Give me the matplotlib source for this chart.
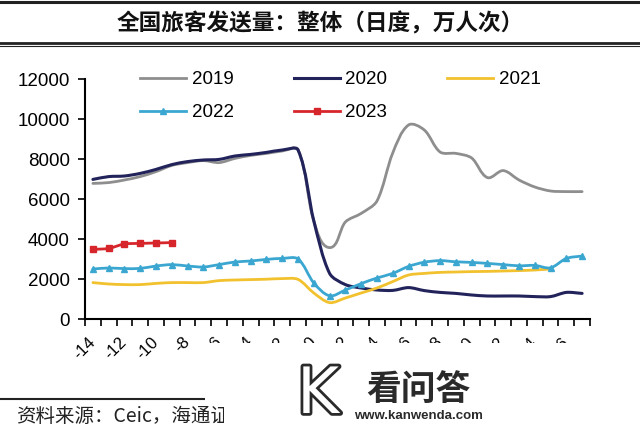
import numpy as np
import matplotlib
matplotlib.use("Agg")
import matplotlib.pyplot as plt
from matplotlib.path import Path
from matplotlib.patches import PathPatch, Polygon
from matplotlib.lines import Line2D
import matplotlib.patheffects as pe

plt.rcParams["font.family"] = ["Liberation Sans", "Noto Sans CJK SC", "DejaVu Sans"]
CJK = ["Noto Sans CJK SC", "DejaVu Sans"]

# ---- data: days around Spring Festival, 万人次 -----------------------------
days = list(range(-14, 18))
y2019 = [6780, 6820, 6950, 7120, 7370, 7680, 7820, 7920, 7820, 8030, 8180, 8280,
         8400, 8470, 4900, 3570, 4850, 5280, 5900, 8300, 9700, 9450, 8350, 8280,
         8050, 7070, 7420, 6950, 6600, 6400, 6370, 6370]
y2020 = [6980, 7120, 7150, 7280, 7480, 7720, 7870, 7950, 7980, 8150, 8230, 8330,
         8450, 8450, 4900, 2280, 1720, 1550, 1450, 1430, 1570, 1420, 1330, 1280,
         1200, 1150, 1150, 1150, 1120, 1120, 1330, 1280]
days2021 = list(range(-14, 16))
y2021 = [1820, 1750, 1720, 1720, 1780, 1820, 1820, 1820, 1920, 1950, 1970, 1990,
         2020, 1980, 1300, 820, 1050, 1300, 1550, 1870, 2200, 2280, 2330, 2350,
         2370, 2380, 2400, 2420, 2450, 2500]
y2022 = [2500, 2550, 2520, 2530, 2650, 2720, 2650, 2600, 2720, 2850, 2900, 2980,
         3030, 3000, 1800, 1160, 1450, 1770, 2050, 2280, 2630, 2840, 2920, 2860,
         2830, 2780, 2720, 2660, 2680, 2560, 3030, 3150]
days2023 = list(range(-14, -8))
y2023 = [3480, 3530, 3750, 3780, 3800, 3820]

xticks = list(range(-14, 17, 2))
yticks = list(range(0, 12001, 2000))

GRAY, NAVY, GOLD, CYAN, RED = "#8e8e8e", "#23235c", "#f2c12e", "#3ba7d1", "#d7262b"

W, H = 640, 429
fig = plt.figure(figsize=(W / 100, H / 100), dpi=100)
ax = fig.add_axes([85 / W, (H - 319) / H, 505 / W, 240 / H])
ax.set_xlim(-14.5, 17.5)
ax.set_ylim(0, 12000)


def smooth(ax, x, y, color, lw, k=0.3):
    """Excel-like smoothed line: cubic Bezier through the points, built in
    display space so the tangents follow what is seen."""
    p = ax.transData.transform(np.column_stack([x, y]))
    n = len(p)
    verts, codes = [p[0]], [Path.MOVETO]
    for i in range(n - 1):
        a = p[i - 1] if i > 0 else p[i]
        b, c = p[i], p[i + 1]
        d = p[i + 2] if i + 2 < n else p[i + 1]
        seg = np.linalg.norm(c - b)
        t1 = (c - a) / np.linalg.norm(c - a)
        t2 = (d - b) / np.linalg.norm(d - b)
        verts += [b + t1 * seg * k, c - t2 * seg * k, c]
        codes += [Path.CURVE4] * 3
    verts = ax.transData.inverted().transform(np.array(verts))
    ax.add_patch(PathPatch(Path(verts, codes), fill=False, ec=color, lw=lw,
                           capstyle="round", joinstyle="round"))


smooth(ax, days, y2019, GRAY, 2.0)
smooth(ax, days, y2020, NAVY, 2.2)
smooth(ax, days2021, y2021, GOLD, 2.0)
smooth(ax, days, y2022, CYAN, 2.0)
ax.plot(days, y2022, ls="none", marker="^", ms=5, color=CYAN)
smooth(ax, days2023, y2023, RED, 2.0)
ax.plot(days2023, y2023, ls="none", marker="s", ms=5, color=RED)

for s in ("top", "right"):
    ax.spines[s].set_visible(False)
for s in ("left", "bottom"):
    ax.spines[s].set_linewidth(1.5)
ax.set_yticks(yticks)
ax.set_yticklabels([str(v) for v in yticks])
ax.set_xticks(xticks)
ax.set_xticklabels([str(v) for v in xticks], rotation=45, ha="right",
                   va="center", rotation_mode="anchor")
ax.set_xticks(np.arange(-14.5, 18.0, 1.0), minor=True)
ax.tick_params(axis="x", which="major", length=0, pad=15, labelsize=12)
ax.tick_params(axis="x", which="minor", length=5, width=1.2, direction="out")
ax.tick_params(axis="y", length=5, width=1.2, direction="out", pad=6,
               labelsize=13.5)

handles = [Line2D([], [], color=GRAY, lw=2),
           Line2D([], [], color=CYAN, lw=2, marker="^", ms=5),
           Line2D([], [], color=NAVY, lw=2.2),
           Line2D([], [], color=RED, lw=2, marker="s", ms=5),
           Line2D([], [], color=GOLD, lw=2)]
labels = ["2019", "2022", "2020", "2023", "2021"]
fig.legend(handles, labels, ncol=3, frameon=False, fontsize=13.5,
           loc="upper left", bbox_to_anchor=(140 / W, 1 - 71 / H),
           handlelength=2.45, handletextpad=0.3, columnspacing=3.2,
           labelspacing=0.85, borderpad=0, borderaxespad=0)

# ---- title block and source ----------------------------------------------
fig.add_artist(Line2D([0, 1], [1 - 1.7 / H] * 2, color="#222", lw=2.2))
fig.add_artist(Line2D([0, 1], [1 - 42.5 / H] * 2, color="#222", lw=2.0))
fig.add_artist(Line2D([0, 1], [1 - 45.5 / H] * 2, color="#222", lw=0.8))
fig.text(0.5, 1 - 24 / H, "全国旅客发送量：整体（日度，万人次）", ha="center",
         va="center", fontsize=16.3, weight="bold", family=CJK, color="#111")
fig.add_artist(Line2D([0, 205 / W], [1 - 399 / H] * 2, color="#222", lw=1.5))
fig.text(16 / W, 1 - 416 / H, "资料来源：Ceic，海通证券研究所", ha="left",
         va="center", fontsize=14, family=CJK, color="#222")

# watermark area covering part of the axis labels and source
cover = [(205, 343), (640, 343), (640, 429), (224, 429), (224, 405), (205, 405)]
fig.add_artist(Polygon([(x / W, 1 - y / H) for x, y in cover], closed=True,
                       fc="white", ec="none", zorder=5))
fig.text(318 / W, 1 - 395 / H, "K", ha="center", va="center", fontsize=46,
         color="white", family="DejaVu Sans", zorder=6,
         path_effects=[pe.withStroke(linewidth=4, foreground="#2a2a2a")])
fig.text(418 / W, 1 - 389 / H, "看问答", ha="center", va="center",
         fontsize=25, weight="bold", family=CJK, color="#2a2a2a", zorder=6)
fig.text(418 / W, 1 - 416 / H, "www.kanwenda.com", ha="center", va="center",
         fontsize=9.5, weight="bold", family="Liberation Sans", color="#2a2a2a",
         zorder=6)

fig.savefig("out.png", dpi=100)
